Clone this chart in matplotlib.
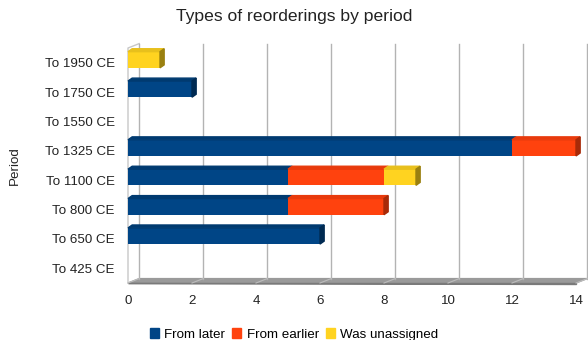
import numpy as np
import matplotlib
matplotlib.use("Agg")
import matplotlib.pyplot as plt
from matplotlib.patches import Patch

plt.rcParams['font.family'] = ['Liberation Sans', 'DejaVu Sans']

periods = ["To 425 CE", "To 650 CE", "To 800 CE", "To 1100 CE",
           "To 1325 CE", "To 1550 CE", "To 1750 CE", "To 1950 CE"]
series = ["From later", "From earlier", "Was unassigned"]
from_later = [0, 6, 5, 5, 12, 0, 2, 0]
from_earlier = [0, 0, 3, 3, 2, 0, 0, 0]
was_unassigned = [0, 0, 0, 1, 0, 0, 0, 1]
xticks = [0, 2, 4, 6, 8, 10, 12, 14]

colors = ["#004586", "#ff420e", "#ffd320"]
top_cols = ["#003a70", "#e83a0c", "#e8c01c"]
side_cols = ["#002a52", "#a82a08", "#9a8010"]

fig = plt.figure(figsize=(5.88, 3.4), dpi=100)
ax = fig.add_axes([128 / 588, 57 / 340, 448 / 588, 235 / 340])
ax.set_xlim(0, 14)
ax.set_ylim(-0.5, 7.5)
for s in ax.spines.values():
    s.set_visible(False)

# depth of the fake 3d box
ddx, ddy = 0.35, 0.15
y0, y1 = -0.5, 7.5

# floor
ax.fill([0, 14, 14 + ddx, ddx], [y0, y0, y0 + ddy, y0 + ddy],
        color="#9a9a9a", clip_on=False, zorder=1)
ax.fill([0, 14, 14], [y0, y0, y0 - 0.04], color="#7a7a7a", clip_on=False, zorder=1)
# left wall
ax.plot([0, 0, ddx], [y0, y1, y1 + ddy], color="#c8c8c8", lw=1, clip_on=False, zorder=1)
# back gridlines
for t in xticks:
    ax.plot([t + ddx, t + ddx], [y0 + ddy, y1 + ddy], color="#b3b3b3", lw=1,
            clip_on=False, zorder=1)
    ax.plot([t, t + ddx], [y0, y0 + ddy], color="#bdbdbd", lw=0.8,
            clip_on=False, zorder=1.5)

# bars
ypos = np.arange(len(periods)) + 0.1
h = 0.55
bdx, bdy = 0.13, 0.1
data = [from_later, from_earlier, was_unassigned]
left = np.zeros(len(periods))
for k, vals in enumerate(data):
    vals = np.array(vals, dtype=float)
    ax.barh(ypos, vals, height=h, left=left, color=colors[k], zorder=3,
            label=series[k])
    for i, v in enumerate(vals):
        if v <= 0:
            continue
        l = left[i]
        yt = ypos[i] + h / 2
        ax.fill([l, l + v, l + v + bdx, l + bdx], [yt, yt, yt + bdy, yt + bdy],
                color=top_cols[k], zorder=3, clip_on=False)
    left = left + vals

# right end faces
for i in range(len(periods)):
    end = left[i]
    if end <= 0:
        continue
    k = max(j for j in range(3) if data[j][i] > 0)
    yb, yt = ypos[i] - h / 2, ypos[i] + h / 2
    ax.fill([end, end + bdx, end + bdx, end], [yb, yb + bdy, yt + bdy, yt],
            color=side_cols[k], zorder=3, clip_on=False)

ax.set_xticks(xticks)
ax.set_xticklabels([str(t) for t in xticks])
ax.set_yticks(np.arange(len(periods)))
ax.set_yticklabels(periods)
ax.tick_params(axis='both', length=0, labelsize=9.6, colors="#222222")
ax.tick_params(axis='x', pad=9)
ax.tick_params(axis='y', pad=9.5)
ax.set_ylabel("Period", fontsize=9.6, color="#222222", labelpad=17)

fig.text(0.4995, 0.95, "Types of reorderings by period", ha="center", va="center",
         fontsize=12.6, color="#222222")

handles = [Patch(color=c) for c in colors]
fig.legend(handles, series, loc="center", bbox_to_anchor=(0.5, 0.016), ncol=3,
           frameon=False, fontsize=9.6, handlelength=0.7, handleheight=0.7,
           handletextpad=0.4, columnspacing=0.5)

fig.savefig("out.png", dpi=100)
